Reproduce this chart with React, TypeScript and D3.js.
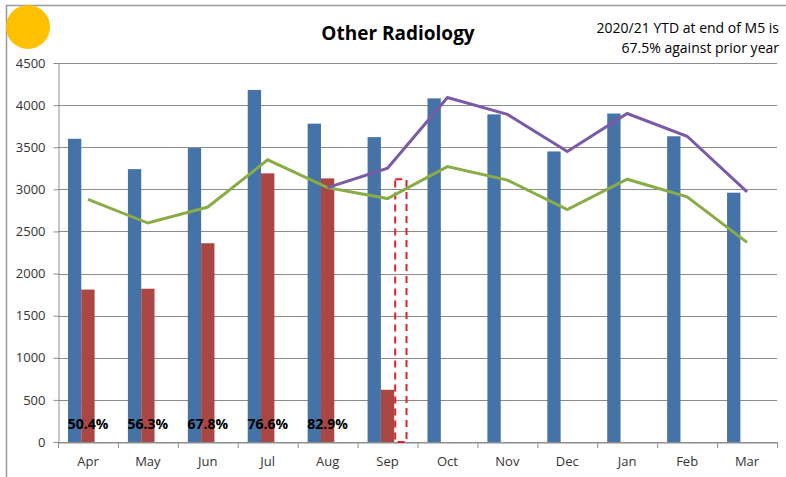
import React, { useRef, useEffect } from 'react';
import * as d3 from 'd3';

const months = ['Apr', 'May', 'Jun', 'Jul', 'Aug', 'Sep', 'Oct', 'Nov', 'Dec', 'Jan', 'Feb', 'Mar'];
const priorYear = [3600, 3240, 3490, 4180, 3780, 3620, 4080, 3890, 3450, 3900, 3630, 2960];
const thisYear = [1810, 1820, 2360, 3190, 3130, 620];
const projected = [null, null, null, null, null, 3120];
const trendGreen = [2880, 2600, 2790, 3350, 3020, 2890, 3270, 3110, 2760, 3120, 2910, 2370];
const trendPurple = [null, null, null, null, 3020, 3250, 4090, 3890, 3450, 3900, 3630, 2970];
const pctLabels = ['50.4%', '56.3%', '67.8%', '76.6%', '82.9%'];
const yTicks = [0, 500, 1000, 1500, 2000, 2500, 3000, 3500, 4000, 4500];

const W = 786;
const H = 477;
const m = { left: 58, right: 9, top: 63, bottom: 35 };
const font = "'Open Sans', sans-serif";

export default function App() {
  const svgRef = useRef<SVGSVGElement>(null);

  useEffect(() => {
    const svg = d3.select(svgRef.current);
    svg.selectAll('*').remove();

    const x = d3.scaleBand().domain(months).range([m.left, W - m.right]);
    const inner = d3.scaleBand().domain(['a', 'b', 'c']).range([0, x.bandwidth()]).paddingOuter(0.75);
    const y = d3.scaleLinear().domain([0, 4500]).range([H - m.bottom, m.top]);

    // frame
    svg.append('path').attr('d', `M6.5,${H} V5.5 H${W}`).attr('fill', 'none').attr('stroke', '#9a9a9a').attr('stroke-width', 1.5);

    // grid
    svg.append('g')
      .selectAll('line')
      .data(yTicks)
      .join('line')
      .attr('x1', m.left)
      .attr('x2', W - m.right)
      .attr('y1', (d) => Math.round(y(d)) + 0.5)
      .attr('y2', (d) => Math.round(y(d)) + 0.5)
      .attr('stroke', '#8c8c8c')
      .attr('stroke-width', 1.2);

    // y axis
    const yAxis = svg.append('g').attr('transform', `translate(${m.left + 0.5},0)`)
      .call(d3.axisLeft(y).tickValues(yTicks).tickSize(5).tickSizeOuter(0).tickFormat(d3.format('d')));
    yAxis.select('.domain').attr('stroke', '#8c8c8c');
    yAxis.selectAll('line').attr('stroke', '#8c8c8c');
    yAxis.selectAll('text').attr('font-family', font).attr('font-size', 13).attr('fill', '#333').attr('x', -13);

    // x axis
    const xAxis = svg.append('g').attr('transform', `translate(0,${Math.round(y(0)) + 0.5})`)
      .call(d3.axisBottom(x).tickSize(0));
    xAxis.select('.domain').attr('stroke', '#8c8c8c');
    xAxis.selectAll('text').attr('font-family', font).attr('font-size', 13).attr('fill', '#333').attr('dy', 20);
    svg.append('g')
      .selectAll('line')
      .data(d3.range(months.length + 1))
      .join('line')
      .attr('x1', (i) => m.left + i * x.step() + 0.5)
      .attr('x2', (i) => m.left + i * x.step() + 0.5)
      .attr('y1', y(0))
      .attr('y2', y(0) + 6)
      .attr('stroke', '#8c8c8c');

    // bars
    svg.append('g')
      .selectAll('rect')
      .data(priorYear)
      .join('rect')
      .attr('x', (d, i) => x(months[i])! + inner('a')!)
      .attr('y', (d) => y(d))
      .attr('width', inner.bandwidth())
      .attr('height', (d) => y(0) - y(d))
      .attr('fill', '#4572a7');

    svg.append('g')
      .selectAll('rect')
      .data(thisYear)
      .join('rect')
      .attr('x', (d, i) => x(months[i])! + inner('b')!)
      .attr('y', (d) => y(d))
      .attr('width', inner.bandwidth())
      .attr('height', (d) => y(0) - y(d))
      .attr('fill', '#aa4643');

    svg.append('g')
      .selectAll('rect')
      .data(projected.map((v, i) => ({ v, i })).filter((d) => d.v !== null))
      .join('rect')
      .attr('x', (d) => x(months[d.i])! + inner('c')! + 1)
      .attr('y', (d) => y(d.v as number))
      .attr('width', inner.bandwidth() - 2)
      .attr('height', (d) => y(0) - y(d.v as number))
      .attr('fill', 'none')
      .attr('stroke', '#e0202a')
      .attr('stroke-width', 2)
      .attr('stroke-dasharray', '7,5');

    // lines
    const cx = (i: number) => x(months[i])! + x.bandwidth() / 2;
    const line = d3.line<number | null>()
      .defined((d) => d !== null)
      .x((d, i) => cx(i))
      .y((d) => y(d as number));

    svg.append('path').datum(trendGreen).attr('d', line).attr('fill', 'none').attr('stroke', '#8aac46').attr('stroke-width', 3);
    svg.append('path').datum(trendPurple).attr('d', line).attr('fill', 'none').attr('stroke', '#7b5aa6').attr('stroke-width', 3);

    // percent labels
    svg.append('g')
      .selectAll('text')
      .data(pctLabels)
      .join('text')
      .attr('x', (d, i) => cx(i))
      .attr('y', y(0) - 13)
      .attr('text-anchor', 'middle')
      .attr('font-family', font)
      .attr('font-size', 14)
      .attr('font-weight', 'bold')
      .attr('fill', '#000')
      .text((d) => d);

    // title + note
    svg.append('text').attr('x', 398).attr('y', 40).attr('text-anchor', 'middle')
      .attr('font-family', font).attr('font-size', 19).attr('font-weight', 'bold').text('Other Radiology');
    svg.append('text').attr('x', 779).attr('y', 33).attr('text-anchor', 'end')
      .attr('font-family', font).attr('font-size', 14).text('2020/21 YTD at end of M5 is');
    svg.append('text').attr('x', 779).attr('y', 53).attr('text-anchor', 'end')
      .attr('font-family', font).attr('font-size', 14).text('67.5% against prior year');

    svg.append('circle').attr('cx', 28).attr('cy', 27).attr('r', 22).attr('fill', '#ffc000');
  }, []);

  return (
    <svg ref={svgRef} width={W} height={H} style={{ position: 'absolute', left: 0, top: 0, background: '#fff' }} />
  );
}
